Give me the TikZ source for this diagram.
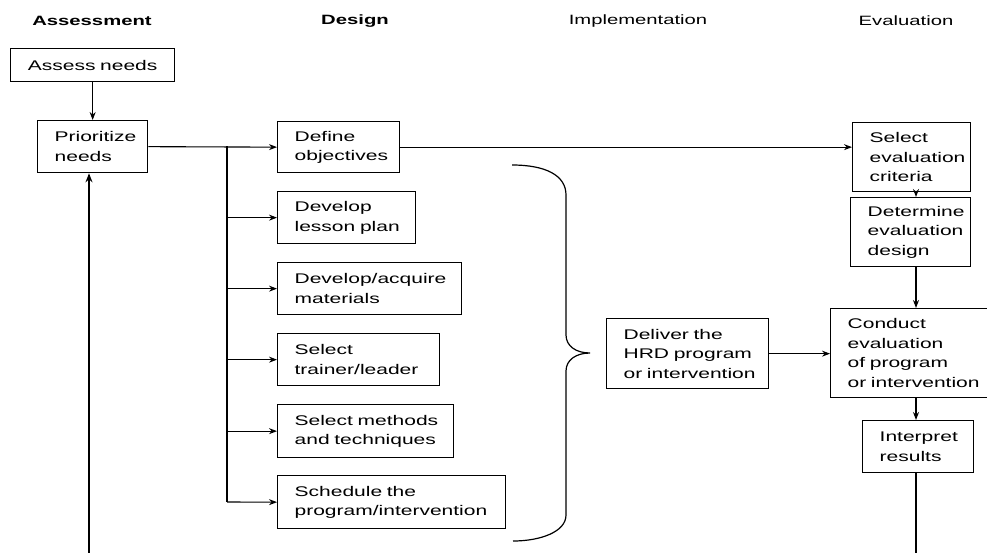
\documentclass[tikz,border=0pt]{standalone}
\usepackage{fontspec}
\setmainfont{Liberation Sans}[FakeStretch=1.5]
\usetikzlibrary{arrows.meta}
\newcommand\myboxfont{\fontsize{14}{19.5}\selectfont\hyphenpenalty=10000 \exhyphenpenalty=10000 }
\newcommand\myhdrfont{\fontsize{13.5}{16}\selectfont}
\tikzset{
  box/.style={draw, line width=1.3pt, anchor=north west, align=left,
    inner xsep=17pt, inner ysep=0pt, font=\myboxfont},
  hdr/.style={font=\myhdrfont, inner sep=0pt},
  conn/.style={line width=1.1pt},
  arr/.style={line width=1.1pt, -{Stealth[length=8pt,width=6pt]}},
}
\begin{document}
\begin{tikzpicture}[x=1pt,y=-1pt]
\useasboundingbox (0,0) rectangle (987,552);
\clip (0,0) rectangle (987,552);

% headers
\node[hdr, font=\myhdrfont\bfseries] (hA) at (92,21) {Assessment};
\node[hdr, font=\myhdrfont\bfseries] (hD) at (355,21) {Design};
\node[hdr] (hI) at (638,21) {Implementation};
\node[hdr] (hE) at (906,21) {Evaluation};

% assessment column
\node[box, align=center, minimum width=164pt, text width=130pt, minimum height=33pt] (assess) at (10,48) {Assess~needs};
\node[box, minimum width=110pt, text width=76pt, minimum height=52pt] (prior) at (37,120) {Prioritize\\needs};

% design column
\node[box, minimum width=122pt, text width=88pt, minimum height=51pt] (define) at (277,121) {Define\\objectives};
\node[box, minimum width=138pt, text width=104pt, minimum height=52pt] (lesson) at (277,191) {Develop\\lesson~plan};
\node[box, minimum width=184pt, text width=150pt, minimum height=52pt] (mater) at (277,262) {Develop/acquire\\materials};
\node[box, minimum width=162pt, text width=128pt, minimum height=52pt] (trainer) at (277,333) {Select\\trainer/leader};
\node[box, minimum width=176pt, text width=142pt, minimum height=53pt] (methods) at (277,404) {Select~methods\\and~techniques};
\node[box, minimum width=228pt, text width=194pt, minimum height=53pt] (sched) at (277,475) {Schedule~the\\program/intervention};

% implementation
\node[box, minimum width=162pt, text width=128pt, minimum height=70pt] (deliver) at (606,318) {Deliver~the\\HRD~program\\or~intervention};

% evaluation column
\node[box, minimum width=118pt, text width=84pt, minimum height=69pt] (crit) at (852,122) {Select\\evaluation\\criteria};
\node[box, minimum width=120pt, text width=86pt, minimum height=69pt] (det) at (850,197) {Determine\\evaluation\\design};
\node[box, minimum width=164pt, text width=130pt, minimum height=89pt] (cond) at (830,308) {Conduct\\evaluation\\of~program\\or~intervention};
\node[box, minimum width=111pt, text width=77pt, minimum height=52pt] (interp) at (862,420) {Interpret\\results};

% helper coordinates
\coordinate (ex) at (916,0);
\coordinate (j) at (227,146);
\coordinate (jend) at (227,502);
\coordinate (fbL) at (89,560);
\coordinate (fbR) at (916,560);

% connectors
\draw[arr] (assess.south) -- (prior.north);
\draw[arr] (prior.east) -- (define.west);
\draw[conn] (j) -- (jend);
\draw[arr] (j |- lesson.west) -- (lesson.west);
\draw[arr] (j |- mater.west) -- (mater.west);
\draw[arr] (j |- trainer.west) -- (trainer.west);
\draw[arr] (j |- methods.west) -- (methods.west);
\draw[arr] (jend) -- (sched.west);
\draw[arr] (define.east) -- (define.east -| crit.west);
\draw[arr] (crit.south -| ex) -- (det.north -| ex);
\draw[arr] (det.south -| ex) -- (cond.north -| ex);
\draw[arr] (cond.south -| ex) -- (interp.north -| ex);
\draw[arr] (deliver.east) -- (cond.west |- deliver.east);
\draw[conn] (interp.south -| ex) -- (fbR);
\draw[line width=1.7pt, -{Stealth[length=9pt,width=7pt]}] (fbL) -- (fbL |- prior.south);

% brace
\draw[line width=1.2pt] (512,165) .. controls (545,165) and (566,175) .. (566,195)
  -- (566,335) .. controls (566,346) and (576,353) .. (590,353)
  .. controls (576,353) and (566,360) .. (566,371)
  -- (566,515) .. controls (566,532) and (540,541) .. (513,541);
\end{tikzpicture}
\end{document}
